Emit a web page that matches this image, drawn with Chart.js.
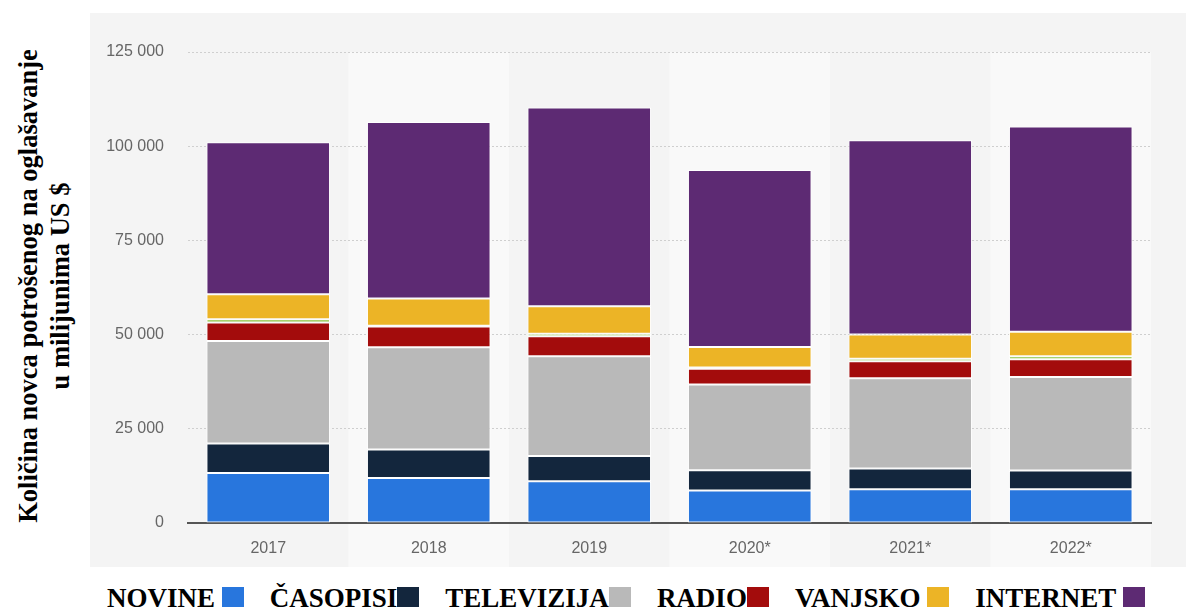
<!DOCTYPE html>
<html>
<head>
<meta charset="utf-8">
<script src="https://cdn.jsdelivr.net/npm/chart.js@4.4.0/dist/chart.umd.min.js"></script>
<style>
	body { margin: 0; background: #fff; width: 1186px; height: 608px; overflow: hidden; position: relative; }
	#panel { position: absolute; left: 90px; top: 13px; width: 1096px; height: 554px; background: #f4f4f4; }
	#y_title { position: absolute; left: -256px; top: 254px; width: 600px; height: 64px; transform: rotate(-90deg);
		text-align: center; font: bold 26.5px "Liberation Serif", "Times New Roman", serif; line-height: 32px; color: #000; white-space: nowrap; }
	#legend { position: absolute; left: 107px; top: 585px; display: flex; font: bold 27px "Liberation Serif", "Times New Roman", serif; line-height: 26px; color: #000; white-space: pre; }
	.legItem { display: inline-flex; align-items: center; margin-right: 26px; }
	.legBox { display: inline-block; width: 22px; height: 20px; position: relative; top: -1px; }
</style>
</head>
<body>
<div id="y_title">Količina novca potrošenog na oglašavanje<br>u milijunima US $</div>
<div id="panel"><canvas id="ads_chart"></canvas></div>
<div id="legend"></div>

<script>
var years = ["2017", "2018", "2019", "2020*", "2021*", "2022*"];

var novine = [13270, 11940, 11070, 8600, 8940, 8940];
var casopisi = [7800, 7540, 6710, 5390, 5500, 4970];
var televizija = [27230, 27150, 26460, 22740, 23960, 24840];
var radio = [4880, 5550, 5310, 4200, 4510, 4690];
var kino = [900, 200, 650, 350, 700, 800];
var vanjsko = [6600, 7170, 7350, 5450, 6400, 6500];
var internet = [40400, 46900, 52730, 46970, 51570, 54460];

var yTicks = [0, 25000, 50000, 75000, 100000, 125000];

// label, values, colour, shown in legend, space before box
var series = [
	["NOVINE", novine, "#2876dd", true, true],
	["ČASOPISI", casopisi, "#13263d", true, false],
	["TELEVIZIJA", televizija, "#b9b9b9", true, false],
	["RADIO", radio, "#a30c0c", true, false],
	["KINO", kino, "#8cc43f", false, false],
	["VANJSKO", vanjsko, "#ecb426", true, true],
	["INTERNET", internet, "#5d2a73", true, true]
];

function fmtThousands(v) {
	return String(v).replace(/\B(?=(\d{3})+(?!\d))/g, " ");
}

var datasets = [];
for (var ix in series) {
	datasets.push({
		label: series[ix][0],
		data: series[ix][1],
		backgroundColor: series[ix][2],
		borderColor: "#ffffff",
		borderWidth: 1,
		borderSkipped: false,
		barPercentage: 0.77,
		categoryPercentage: 1
	});
}

// lighter bands behind every second year
var bandsPlugin = {
	id: "bands",
	beforeDraw: function(chart) {
		var ctx = chart.ctx;
		var area = chart.chartArea;
		var xs = chart.scales.x;
		var w = (area.right - area.left) / years.length;
		ctx.save();
		ctx.fillStyle = "#f9f9f9";
		for (var i = 1; i < years.length; i += 2) {
			var cx = xs.getPixelForValue(i);
			ctx.fillRect(cx - w / 2, area.top, w, chart.height - area.top);
		}
		ctx.restore();
	}
};

var ctx = document.getElementById("ads_chart");
var adsChart = new Chart(ctx, {
	type: "bar",
	data: { labels: years, datasets: datasets },
	plugins: [bandsPlugin],
	options: {
		responsive: true,
		maintainAspectRatio: false,
		animation: false,
		layout: { padding: { top: 39, right: 35, left: 0, bottom: 0 } },
		plugins: {
			legend: { display: false },
			tooltip: { enabled: false }
		},
		scales: {
			x: {
				stacked: true,
				grid: { display: false, drawTicks: false },
				border: { display: true, color: "#555555", width: 2 },
				ticks: { color: "#666666", padding: 16, font: { family: "Liberation Sans", size: 16 } },
				afterFit: function(scale) { scale.height = 44; }
			},
			y: {
				stacked: true,
				min: 0,
				max: 125000,
				afterBuildTicks: function(scale) {
					scale.ticks = yTicks.map(function(v) { return { value: v }; });
				},
				grid: { color: "#cfcfcf", lineWidth: 1, drawTicks: false },
				border: { display: false, dash: [2, 2] },
				ticks: {
					color: "#666666",
					padding: 24,
					font: { family: "Liberation Sans", size: 16 },
					callback: function(v) { return fmtThousands(v); }
				},
				afterFit: function(scale) { scale.width = 98; }
			}
		}
	}
});

var legend = document.getElementById("legend");
for (var k in series) {
	if (!series[k][3]) continue;
	var item = document.createElement("span");
	item.className = "legItem";
	item.appendChild(document.createTextNode(series[k][0] + (series[k][4] ? " " : "")));
	var box = document.createElement("span");
	box.className = "legBox";
	box.style.background = series[k][2];
	item.appendChild(box);
	legend.appendChild(item);
}
</script>
</body>
</html>
